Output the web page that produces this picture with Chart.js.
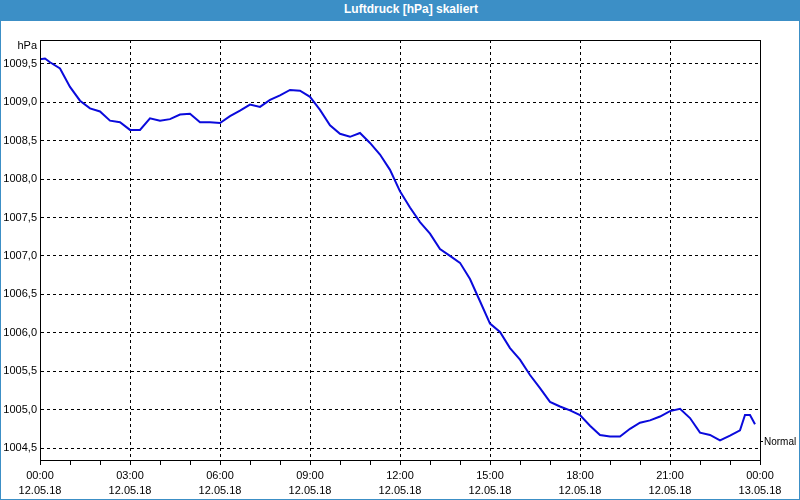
<!DOCTYPE html>
<html>
<head>
<meta charset="utf-8">
<script src="https://cdn.jsdelivr.net/npm/chart.js@4"></script>
<style>
  body { margin: 0; background: #fff; }
  #frame { position: relative; width: 800px; height: 500px; box-sizing: border-box;
           border: 1px solid #3c8fc6; border-top: none; background: #fff; }
  #title { position: absolute; left: -1px; top: 0; width: 800px; height: 21px; background: #3c8fc6;
           color: #fff; font: bold 12px "Liberation Sans", sans-serif; line-height: 19px;
           text-align: center; padding-left: 22px; box-sizing: border-box; }
  #wrap { position: absolute; left: 0; top: 21px; width: 798px; height: 478px; }
</style>
</head>
<body>
<div id="frame">
  <div id="title">Luftdruck [hPa] skaliert</div>
  <div id="wrap"><canvas id="pressureChart"></canvas></div>
</div>
<script>
// minutes since 12.05.18 00:00
const minutes = [0, 10, 20, 40, 60, 80, 100, 120, 140, 160, 180, 200, 220, 240, 260, 280, 300,
  320, 340, 360, 380, 400, 420, 440, 460, 480, 500, 520, 540, 560, 580, 600, 620, 640, 660,
  680, 700, 720, 740, 760, 780, 800, 820, 840, 860, 880, 900, 920, 940, 960, 980, 1000,
  1020, 1040, 1060, 1080, 1100, 1120, 1140, 1160, 1180, 1200, 1220, 1240, 1260, 1280,
  1300, 1320, 1340, 1360, 1380, 1400, 1410, 1420, 1430];
const pressure = [1009.56, 1009.57, 1009.52, 1009.44, 1009.20, 1009.02, 1008.92, 1008.88,
  1008.76, 1008.74, 1008.64, 1008.64, 1008.79, 1008.76, 1008.78, 1008.84, 1008.85,
  1008.74, 1008.74, 1008.73, 1008.82, 1008.89, 1008.97, 1008.94, 1009.03, 1009.09,
  1009.16, 1009.15, 1009.07, 1008.90, 1008.70, 1008.59, 1008.55, 1008.60, 1008.47,
  1008.32, 1008.12, 1007.84, 1007.63, 1007.44, 1007.29, 1007.09, 1007.00, 1006.91,
  1006.70, 1006.41, 1006.12, 1006.01, 1005.80, 1005.65, 1005.45, 1005.28, 1005.10,
  1005.04, 1004.99, 1004.93, 1004.79, 1004.67, 1004.65, 1004.65, 1004.75, 1004.83,
  1004.86, 1004.91, 1004.98, 1005.01, 1004.89, 1004.70, 1004.67, 1004.60, 1004.66,
  1004.73, 1004.93, 1004.93, 1004.81];

const yTicks = [1004.5, 1005.0, 1005.5, 1006.0, 1006.5, 1007.0, 1007.5, 1008.0, 1008.5, 1009.0, 1009.5];
const xTicks = [0, 60, 120, 180, 240, 300, 360, 420, 480, 540, 600, 660, 720, 780, 840, 900,
  960, 1020, 1080, 1140, 1200, 1260, 1320, 1380, 1440];
const normalValue = 1004.58;
const startDay = 12;

const yMin = 1004.344;
const yMax = 1009.81;

const font = { family: "Liberation Sans, sans-serif", size: 11 };

function pad(n) { return String(n).padStart(2, "0"); }

// plot box + unit label
const frameBox = {
  id: "frameBox",
  afterDraw(chart) {
    const { ctx, chartArea: a } = chart;
    ctx.save();
    ctx.strokeStyle = "#000";
    ctx.lineWidth = 1;
    ctx.strokeRect(Math.round(a.left) + 0.5, Math.round(a.top) + 0.5,
      Math.round(a.right - a.left), Math.round(a.bottom - a.top));
    ctx.fillStyle = "#000";
    ctx.font = "11px Liberation Sans, sans-serif";
    ctx.textAlign = "right";
    ctx.textBaseline = "middle";
    ctx.fillText("hPa", a.left - 3, a.top + 6);
    ctx.restore();
  },
};

const ctx = document.getElementById("pressureChart").getContext("2d");

new Chart(ctx, {
  type: "line",
  data: {
    datasets: [
      {
        data: minutes.map((m, i) => ({ x: m, y: pressure[i] })),
        borderColor: "#0a0adc",
        borderWidth: 2,
        pointRadius: 0,
        tension: 0,
        fill: false,
      },
    ],
  },
  options: {
    responsive: true,
    maintainAspectRatio: false,
    animation: false,
    layout: { padding: { top: 19, left: 0, right: 0, bottom: 0 } },
    plugins: {
      legend: { display: false },
      tooltip: { enabled: false },
    },
    scales: {
      x: {
        type: "linear",
        min: 0,
        max: 1440,
        afterBuildTicks: (scale) => { scale.ticks = xTicks.map((v) => ({ value: v })); },
        afterFit: (scale) => { scale.height = 39; },
        grid: {
          color: (c) => (c.tick && c.tick.value % 180 === 0 ? "#000" : "rgba(0,0,0,0)"),
          tickColor: "#000",
          tickLength: 5,
          lineWidth: 1,
        },
        border: { display: true, color: "#000", dash: [3, 3] },
        ticks: {
          autoSkip: false,
          maxRotation: 0,
          padding: 3,
          color: "#000",
          font: { ...font, lineHeight: 1.4 },
          callback: (v) => {
            if (v % 180 !== 0) return "";
            const day = startDay + Math.floor(v / 1440);
            const h = Math.floor((v % 1440) / 60);
            return [pad(h) + ":00", pad(day) + ".05.18"];
          },
        },
      },
      y: {
        min: yMin,
        max: yMax,
        afterBuildTicks: (scale) => { scale.ticks = yTicks.map((v) => ({ value: v })); },
        afterFit: (scale) => { scale.width = 39; },
        grid: { color: "#000", drawTicks: false, lineWidth: 1 },
        border: { display: true, color: "#000", dash: [3, 3] },
        ticks: {
          padding: 3,
          color: "#000",
          font: font,
          callback: (v) => v.toFixed(1).replace(".", ","),
        },
      },
      y2: {
        position: "right",
        min: yMin,
        max: yMax,
        afterBuildTicks: (scale) => { scale.ticks = [{ value: normalValue }]; },
        afterFit: (scale) => { scale.width = 39; },
        grid: { drawOnChartArea: false, tickColor: "#000", tickLength: 3 },
        border: { display: true, color: "#000" },
        ticks: {
          padding: 1,
          color: "#000",
          font: { family: "Liberation Sans, sans-serif", size: 10 },
          callback: () => "Normal",
        },
      },
    },
  },
  plugins: [frameBox],
});
</script>
</body>
</html>
